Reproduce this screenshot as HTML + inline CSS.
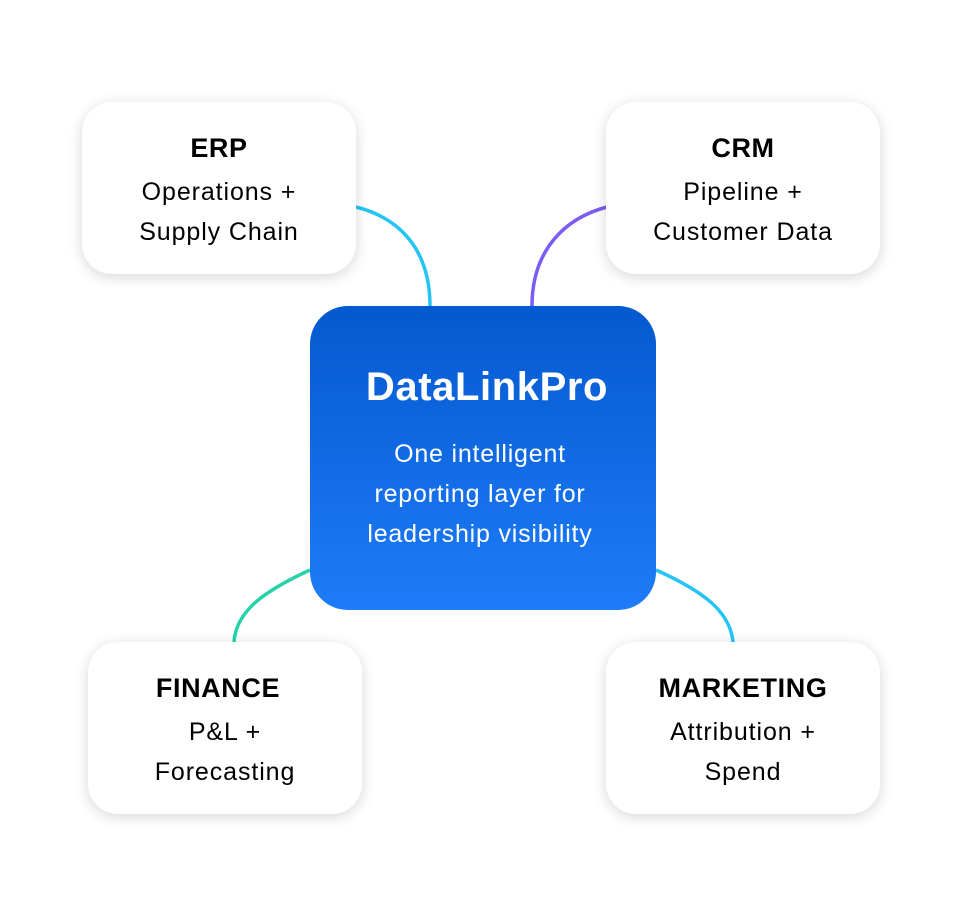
<!DOCTYPE html>
<html><head><meta charset="utf-8"><style>
body{margin:0;width:962px;height:916px;background:#fff;position:relative;overflow:hidden;font-family:"Liberation Sans",sans-serif;}
.card{position:absolute;width:274px;height:172px;background:#fff;border-radius:30px;box-shadow:0 3px 14px rgba(0,0,0,0.16);text-align:center;color:#000;}
.card .t{position:absolute;left:0;right:0;top:29px;font-weight:bold;font-size:27px;line-height:34px;letter-spacing:0.6px;}
.card .b{position:absolute;left:0;right:0;top:70px;font-size:25px;line-height:40px;letter-spacing:0.9px;}
.center{position:absolute;left:310px;top:306px;width:346px;height:304px;border-radius:38px;background:linear-gradient(#0459cf,#1e7cf8);color:#fff;text-align:center;}
.center .t{position:absolute;left:0;right:0;top:58px;font-weight:bold;font-size:40px;line-height:46px;padding-left:8px;letter-spacing:0.6px;}
.center .b{position:absolute;left:0;right:0;top:128px;font-size:25px;line-height:40px;letter-spacing:0.8px;padding-right:6px;}
svg{position:absolute;left:0;top:0;}
</style></head><body>
<svg width="962" height="916">
<path d="M356,207 C400,218 430,250 430,306" stroke="#25c4f5" stroke-width="3.5" fill="none"/>
<path d="M607,207 C565,218 532,250 532,306" stroke="#7b5cf5" stroke-width="3.5" fill="none"/>
<path d="M310,570 C262,592 236,612 234,642" stroke="#26d3a8" stroke-width="3.5" fill="none"/>
<path d="M656,570 C705,592 730,612 733,642" stroke="#25c4f5" stroke-width="3.5" fill="none"/>
</svg>
<div class="card" style="left:82px;top:102px"><div class="t">ERP</div><div class="b">Operations +<br>Supply Chain</div></div>
<div class="card" style="left:606px;top:102px"><div class="t">CRM</div><div class="b">Pipeline +<br>Customer Data</div></div>
<div class="card" style="left:88px;top:642px"><div class="t" style="padding-right:14px">FINANCE</div><div class="b">P&amp;L +<br>Forecasting</div></div>
<div class="card" style="left:606px;top:642px"><div class="t">MARKETING</div><div class="b">Attribution +<br>Spend</div></div>
<div class="center"><div class="t">DataLinkPro</div><div class="b">One intelligent<br>reporting layer for<br>leadership visibility</div></div>
</body></html>
